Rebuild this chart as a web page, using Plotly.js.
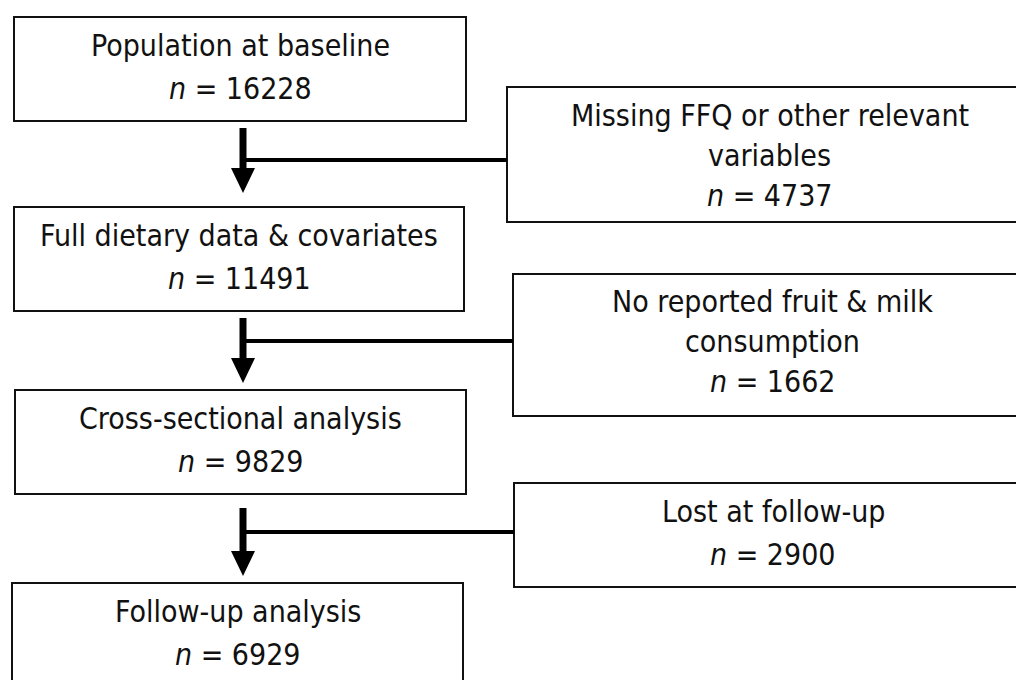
<!DOCTYPE html>
<html>
<head>
<meta charset="utf-8">
<script src="https://cdn.plot.ly/plotly-3.0.1.min.js"></script>
<style>html,body{margin:0;padding:0;background:#fff;}#chart{width:1016px;height:680px;}</style>
</head>
<body>
<div id="chart"></div>
<script>
// ---- data ----
var leftLabels = ["Population at baseline", "Full dietary data & covariates", "Cross-sectional analysis", "Follow-up analysis"];
var leftCounts = [16228, 11491, 9829, 6929];
var rightLabels = ["Missing FFQ or other relevant<br>variables", "No reported fruit & milk<br>consumption", "Lost at follow-up"];
var rightCounts = [4737, 1662, 2900];

// ---- layout geometry (pixels, y downward) ----
var leftBoxes = [[14, 17, 466, 121], [14, 207, 464, 311], [15, 390, 466, 494], [12, 583, 463, 700]];
var rightBoxes = [[507, 87, 1030, 222], [513, 274, 1030, 416], [514, 483, 1030, 587]];
var arrowX = 243;
var arrowTop = [128, 318, 508];
var arrowTip = [193, 383, 576];
var connY = [160, 341, 532];
var rightTextY = [[115, 155, 195], [301, 341, 381], [511, 554]];

var FONT = "'DejaVu Sans Condensed', 'DejaVu Sans', sans-serif";
var shapes = [], annotations = [];

function box(b) {
  shapes.push({type: 'rect', xref: 'x', yref: 'y', x0: b[0], y0: b[1], x1: b[2], y1: b[3],
    line: {color: '#111', width: 2}, fillcolor: 'rgba(0,0,0,0)'});
}
function label(text, cx, cy) {
  annotations.push({xref: 'x', yref: 'y', x: cx, y: cy, text: text, showarrow: false,
    font: {family: FONT, size: 30, color: '#111'}, xanchor: 'center', yanchor: 'middle', align: 'center'});
}

leftBoxes.forEach(function (b, i) {
  box(b);
  var cx = (b[0] + b[2]) / 2;
  var top = b[1];
  label(leftLabels[i], cx, top + 28);
  label('<i>n</i> = ' + leftCounts[i], cx, top + 71);
});
rightBoxes.forEach(function (b, i) {
  box(b);
  var cx = (b[0] + 1016) / 2 + 8;
  var lines = rightLabels[i].split('<br>');
  var ys = rightTextY[i];
  lines.forEach(function (ln, k) { label(ln, cx, ys[k]); });
  label('<i>n</i> = ' + rightCounts[i], cx, ys[lines.length]);
});

for (var i = 0; i < 3; i++) {
  var headH = 25, headW = 12;
  shapes.push({type: 'line', xref: 'x', yref: 'y', x0: arrowX, x1: arrowX, y0: arrowTop[i], y1: arrowTip[i] - headH + 1,
    line: {color: '#000', width: 7}});
  shapes.push({type: 'path', xref: 'x', yref: 'y',
    path: 'M ' + (arrowX - headW) + ' ' + (arrowTip[i] - headH) + ' L ' + (arrowX + headW) + ' ' + (arrowTip[i] - headH) + ' L ' + arrowX + ' ' + arrowTip[i] + ' Z',
    fillcolor: '#000', line: {color: '#000', width: 0}});
  shapes.push({type: 'line', xref: 'x', yref: 'y', x0: arrowX, x1: rightBoxes[i][0], y0: connY[i], y1: connY[i],
    line: {color: '#000', width: 4}});
}

var layout = {
  width: 1016, height: 680,
  margin: {l: 0, r: 0, t: 0, b: 0},
  paper_bgcolor: '#fff', plot_bgcolor: '#fff',
  xaxis: {range: [0, 1016], visible: false, fixedrange: true},
  yaxis: {range: [680, 0], visible: false, fixedrange: true},
  shapes: shapes, annotations: annotations, showlegend: false
};
Plotly.newPlot('chart', [], layout, {staticPlot: true, displayModeBar: false});
</script>
</body>
</html>
